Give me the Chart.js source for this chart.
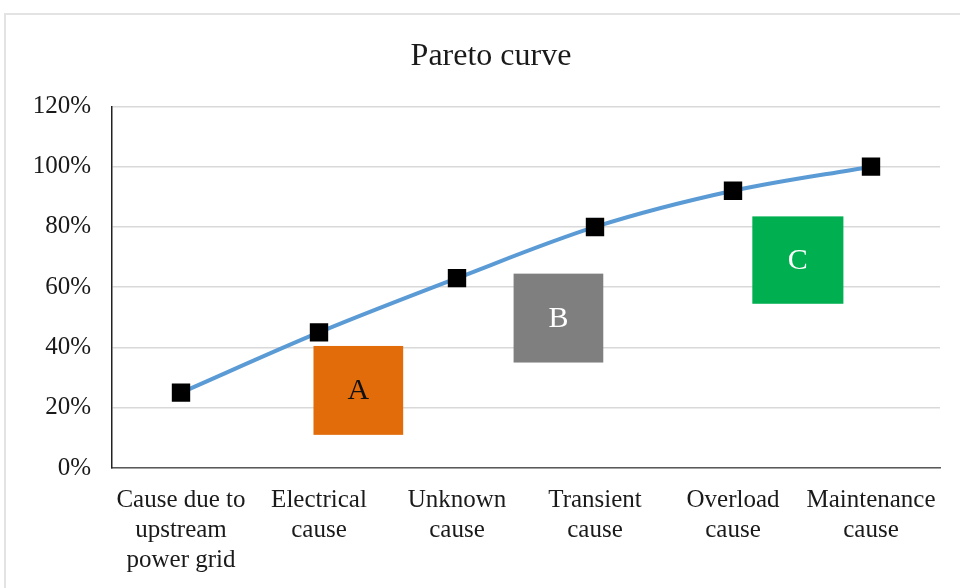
<!DOCTYPE html>
<html>
<head>
<meta charset="utf-8">
<title>Pareto curve</title>
<script src="https://cdn.jsdelivr.net/npm/chart.js@4"></script>
<style>
  html, body { margin: 0; padding: 0; background: #ffffff; }
  #wrap { position: relative; width: 960px; height: 588px; }
</style>
</head>
<body>
<div id="wrap"><canvas id="chartjs-0" width="960" height="588"></canvas></div>
<script>
"use strict";

// categories (x axis), multi-line labels
var causes = [
    ["Cause due to", "upstream", "power grid"],
    ["Electrical", "cause"],
    ["Unknown", "cause"],
    ["Transient", "cause"],
    ["Overload", "cause"],
    ["Maintenance", "cause"]
];

// cumulative percentage
var cumulative = [25, 45, 63, 80, 92, 100];

// y tick values
var yTicks = [0, 20, 40, 60, 80, 100, 120];

// class boxes: letter, x range (category index), y range (%)
var boxLetters = ["A", "B", "C"];
var boxFromX = [0.96, 2.41, 4.14];
var boxToX = [1.61, 3.06, 4.80];
var boxFromY = [11, 35, 54.5];
var boxToY = [40.5, 64.5, 83.5];
var boxFill = ["#e36c0a", "#7f7f7f", "#00b050"];
var boxText = ["#111111", "#ffffff", "#ffffff"];

var serif = "'Liberation Serif', 'Times New Roman', serif";

// light frame around the whole chart; title nudged a bit to the right
var framePlugin = {
    id: "frame",
    afterLayout: function (chart) {
        var t = chart.titleBlock;
        if (t) { t.left += 26; }
    },
    beforeDraw: function (chart) {
        var c = chart.ctx;
        c.save();
        c.fillStyle = "#ffffff";
        c.fillRect(0, 0, chart.width, chart.height);
        c.strokeStyle = "#e3e3e3";
        c.lineWidth = 2;
        c.strokeRect(5, 14, chart.width + 20, chart.height + 20);
        c.restore();
    }
};

// the A / B / C boxes, placed through the chart scales
var boxPlugin = {
    id: "classBoxes",
    afterDatasetsDraw: function (chart) {
        var c = chart.ctx;
        var xs = chart.scales.x;
        var ys = chart.scales.y;
        c.save();
        for (var i = 0; i < boxLetters.length; i++) {
            var x1 = xs.getPixelForValue(boxFromX[i]);
            var x2 = xs.getPixelForValue(boxToX[i]);
            var y1 = ys.getPixelForValue(boxToY[i]);
            var y2 = ys.getPixelForValue(boxFromY[i]);
            c.fillStyle = boxFill[i];
            c.fillRect(x1, y1, x2 - x1, y2 - y1);
            c.fillStyle = boxText[i];
            c.font = "30px " + serif;
            c.textAlign = "center";
            c.textBaseline = "middle";
            c.fillText(boxLetters[i], (x1 + x2) / 2, (y1 + y2) / 2 + 1);
        }
        c.restore();
    }
};

var ctx0 = document.getElementById("chartjs-0");
var myChart = new Chart(ctx0, {
    type: "line",
    data: {
        labels: causes,
        datasets: [{
            label: "Cumulative",
            data: cumulative,
            fill: false,
            borderColor: "#5b9bd5",
            borderWidth: 4,
            tension: 0.35,
            cubicInterpolationMode: "monotone",
            pointStyle: "rect",
            pointRadius: 13,
            pointBackgroundColor: "#000000",
            pointBorderColor: "#000000",
            pointBorderWidth: 0
        }]
    },
    plugins: [framePlugin, boxPlugin],
    options: {
        responsive: false,
        animation: false,
        layout: { padding: { top: 37, left: 16, right: 20, bottom: 0 } },
        plugins: {
            legend: { display: false },
            tooltip: { enabled: false },
            title: {
                display: true,
                text: "Pareto curve",
                color: "#1a1a1a",
                font: { family: serif, size: 32, weight: "normal" },
                padding: { top: 0, bottom: 31 }
            }
        },
        scales: {
            x: {
                offset: true,
                grid: { display: false, drawTicks: false },
                border: { color: "#595959", width: 1.5 },
                ticks: {
                    color: "#1a1a1a",
                    font: { family: serif, size: 25, lineHeight: 1.2 },
                    padding: 17,
                    maxRotation: 0,
                    autoSkip: false
                },
                afterFit: function (scale) { scale.height = 120; }
            },
            y: {
                min: 0,
                max: 120,
                afterBuildTicks: function (scale) {
                    scale.ticks = yTicks.map(function (v) { return { value: v }; });
                },
                grid: { color: "#d9d9d9", lineWidth: 1.5, drawTicks: false },
                border: { color: "#222222", width: 1.5 },
                ticks: {
                    color: "#1a1a1a",
                    font: { family: serif, size: 25 },
                    padding: 21,
                    callback: function (v) { return v + "%"; }
                },
                afterFit: function (scale) { scale.width = 96; }
            }
        }
    }
});
</script>
</body>
</html>
